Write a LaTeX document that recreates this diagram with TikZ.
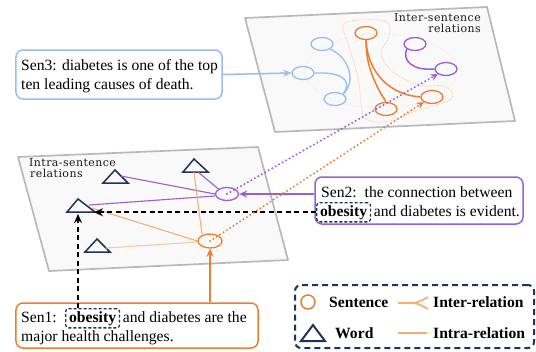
\documentclass[tikz,border=0pt]{standalone}
\usepackage{fontspec}
\newfontfamily\tnr{Liberation Serif}
\newfontfamily\dvs[LetterSpace=4]{DejaVu Serif}
\usetikzlibrary{arrows.meta,shapes.geometric,calc}
\definecolor{cblue}{RGB}{150,190,245}
\definecolor{cbluef}{RGB}{215,228,250}
\definecolor{cpurple}{RGB}{155,95,210}
\definecolor{corange}{RGB}{237,125,49}
\definecolor{corangel}{RGB}{247,175,120}
\definecolor{corangeh}{RGB}{250,200,165}
\definecolor{cnavy}{RGB}{30,50,90}
\definecolor{cplane}{RGB}{249,249,249}
\definecolor{cborder}{RGB}{185,185,185}
\begin{document}
\begin{tikzpicture}[x=1bp,y=-1bp,
  plane/.style={draw=cborder, fill=cplane, line width=1.7bp, line join=round},
  sent/.style={ellipse, draw, minimum width=22bp, minimum height=13bp, inner sep=0pt, line width=1.3bp},
  tri/.style={draw=cnavy, line width=1.5bp, line join=miter},
  txt/.style={font=\tnr\fontsize{15.7}{19}\selectfont, inner sep=0pt, anchor=base west},
  btxt/.style={font=\tnr\bfseries\fontsize{15.7}{19}\selectfont, inner sep=0pt, anchor=base west},
  obx/.style={draw=cnavy, dash pattern=on 3bp off 2bp, rounded corners=3bp, line width=1.3bp, inner xsep=3.5bp, inner ysep=2.5bp, font=\tnr\bfseries\fontsize{15.7}{19}\selectfont, anchor=base west},
  sbox/.style={draw, rounded corners=7bp, line width=1.5bp, inner sep=0pt},
  lab/.style={font=\dvs\fontsize{11}{12}\selectfont, inner sep=0pt, text=black!90},
  arr/.style={line width=1.5bp, -{Stealth[length=8bp,width=7bp]}},
  blk/.style={line width=1.8bp, dash pattern=on 5bp off 3.5bp, -{Stealth[length=9bp,width=8bp]}},
  dotarr/.style={line width=2.2bp, line cap=round, dash pattern=on 0bp off 4bp, -{Stealth[length=7bp,width=7bp]}},
  rel/.style={line width=1.1bp}
]
\useasboundingbox (0,0) rectangle (536,351);

% ---------- planes ----------
\draw[plane] (245,18) -- (487,7) -- (515,121) -- (275,132) -- cycle;
\draw[plane] (18,157) -- (258,147) -- (288,260) -- (49,271) -- cycle;

% ---------- plane labels ----------
\node[lab, anchor=base east] (lab1a) at (481,21) {Inter-sentence};
\node[lab, anchor=base east] (lab1b) at (481,32) {relations};
\node[lab, anchor=base west] (lab2a) at (29,166) {Intra-sentence};
\node[lab, anchor=base west] (lab2b) at (30,177) {relations};

% ---------- top plane ----------
\draw[cbluef, line width=0.7bp, dotted] (381,71) ellipse [x radius=76, y radius=37];
\draw[corangeh, line width=0.8bp, densely dotted] plot[smooth cycle, tension=0.6] coordinates
  {(345,23) (385,21) (389,37) (381,53) (393,72) (420,85) (443,86) (452,93) (448,101) (413,112) (390,121) (370,121) (362,110) (358,77) (348,43)};

\node[sent, draw=cblue] (b1) at (322,44) {};
\node[sent, draw=cblue] (b2) at (303,73) {};
\node[sent, draw=cblue] (b3) at (335,99) {};
\node[sent, draw=corange] (o1) at (366,33) {};
\node[sent, draw=corange] (o2) at (386,109) {};
\node[sent, draw=corange] (o3) at (432,97) {};
\node[sent, draw=cpurple] (p1) at (415,44) {};
\node[sent, draw=cpurple] (p2) at (446,69) {};

\draw[cblue, line width=1.3bp] (b1.south east) .. controls (350,58) and (356,82) .. (b3.north east);
\draw[cblue, line width=1.3bp] (b2.east) .. controls (338,72) and (354,78) .. (b3.north east);
\draw[corange, line width=1.5bp] (o1.south) .. controls (366,62) and (372,80) .. (o2.north);
\draw[corange, line width=1.5bp] (o1.south) .. controls (368,75) and (392,95) .. (o3.west);
\draw[cpurple, line width=1.5bp] (p1.south west) .. controls (402,60) and (412,71) .. (p2.west);

% ---------- bottom plane ----------
\coordinate (t1) at (115,170);
\coordinate (t2) at (194,159);
\coordinate (t3) at (78,199);
\coordinate (t4) at (97,239);
\draw[tri] (t1) -- ++(13,13) -- ++(-25,0) -- cycle;
\draw[tri] (t2) -- ++(14,13) -- ++(-25,0) -- cycle;
\draw[tri] (t3) -- ++(17,13) -- ++(-28,0) -- cycle;
\draw[tri] (t4) -- ++(13,13) -- ++(-25,0) -- cycle;

\node[sent, draw=cpurple, minimum width=23bp, minimum height=13bp] (pc) at (227,194) {};
\node[sent, draw=corange, minimum width=24bp, minimum height=14bp] (oc) at (210,241) {};

\draw[rel, cpurple] ($(t1)+(6,6)$) -- (pc.west);
\draw[rel, cpurple] ($(t2)+(4,13)$) -- (pc.north west);
\draw[rel, cpurple] ($(t3)+(11,6)$) -- ($(pc.west)+(0,2)$);
\draw[rel, corangel] ($(t2)+(0,13)$) -- ($(oc.north)+(-8,1)$);
\draw[rel, corangel] ($(t3)+(14,9)$) -- (oc.west);
\draw[rel, corangeh] ($(t4)+(9,9)$) -- ($(oc.west)+(0,1)$);

% ---------- sentence boxes ----------
\node[sbox, draw=cblue, minimum width=206bp, minimum height=49bp] (s3) at (119,74.5) {};
\node[txt] (s3a) at (21,70) {Sen3: diabetes is one of the top};
\node[txt] (s3b) at (21,89) {ten leading causes of death.};

\node[sbox, draw=cpurple, minimum width=208bp, minimum height=47bp] (s2) at (419,200.5) {};
\node[txt] (s2a) at (321,197) {Sen2:\ \ the connection between};
\node[obx] (ob2) at (316,216) {obesity};
\node[txt] (s2b) at ($(ob2.base east)+(2.5,0)$) {and diabetes is evident.};

\node[sbox, draw=corange, minimum width=242bp, minimum height=45bp] (s1) at (137,325.5) {};
\node[txt] (s1a) at (21,322) {Sen1:};
\node[obx] (ob1) at (65,322) {obesity};
\node[txt] (s1b) at ($(ob1.base east)+(2.5,0)$) {and diabetes are the};
\node[txt] (s1c) at (21,341) {major health challenges.};

% ---------- connectors ----------
\draw[arr, cblue] (s3.east) -- (b2.west);
\draw[arr, cpurple] (s2.west |- pc.east) -- (pc.east);
\coordinate (t3r) at (94,210.5);
\coordinate (t3b) at (78,214);
\draw[blk] (ob2.west) -- (ob2.west -| t3r);
\draw[blk] (t3b |- ob1.north) -- (t3b);
\draw[arr, corange] (oc.south |- s1.north) -- (oc.south);

\draw[dotarr, cpurple] (pc.center) -- (p2.south west);
\draw[dotarr, corange] (oc.center) -- (o3.south west);

% ---------- legend ----------
\node[draw=cnavy, dash pattern=on 6bp off 4bp, rounded corners=6bp, line width=2bp, minimum width=239bp, minimum height=63bp, inner sep=0pt] (leg) at (414.5,316.5) {};
\node[circle, draw=corange, line width=1.5bp, minimum size=14bp, inner sep=0pt] (lsent) at (308,302) {};
\node[btxt] (lsentt) at (329,307) {Sentence};
\coordinate (lw) at (313,325);
\draw[draw=cnavy, line width=2bp, line join=miter] (lw) -- ++(12,16) -- ++(-24,0) -- cycle;
\node[btxt] (lwordt) at (335,338) {Word};
\coordinate (li1) at (398,303);
\coordinate (li2) at (398,333);
\draw[corangel, line width=1.8bp] (li1) -- ++(15,0) .. controls ++(6,-1) .. ++(15,-6);
\draw[corangel, line width=1.8bp] ($(li1)+(15,0)$) .. controls ++(6,1) .. ++(15,6);
\draw[corangel, line width=1.8bp] (li2) -- ++(29,0);
\node[btxt] (linter) at (433,307) {Inter-relation};
\node[btxt] (lintra) at (433,338) {Intra-relation};
\end{tikzpicture}
\end{document}
